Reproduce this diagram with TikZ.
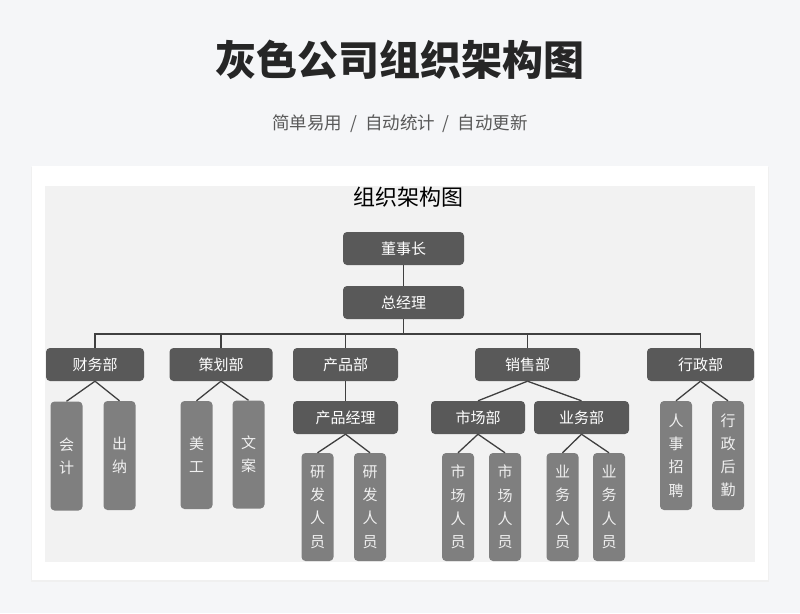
\documentclass[tikz,border=0pt]{standalone}
\usepackage{fontspec}
\setmainfont{Noto Sans CJK SC}
\definecolor{pagebg}{HTML}{F5F6F8}
\definecolor{panelbg}{HTML}{F2F2F2}
\definecolor{darkbox}{HTML}{595959}
\definecolor{leafbox}{HTML}{7F7F7F}
\definecolor{lineclr}{HTML}{404040}
\definecolor{titleclr}{HTML}{262626}
\definecolor{subclr}{HTML}{595959}
\tikzset{
  boxbase/.style={rounded corners=4pt, inner sep=0pt, text=white, align=center},
  headbox/.style={boxbase, fill=darkbox, minimum height=33pt, font=\fontsize{15}{18}\selectfont},
  leafbox/.style={boxbase, fill=leafbox, minimum width=32pt, font=\fontsize{15}{23.2}\selectfont, text=white!94!black},
  conn/.style={draw=lineclr, line width=1.3pt}
}
\begin{document}
\begin{tikzpicture}[x=1pt,y=-1pt]
\useasboundingbox (0,0) rectangle (800,613);
\fill[pagebg] (0,0) rectangle (800,613);
% titles
\node[font=\fontsize{41}{48}\selectfont\bfseries, text=titleclr] (title) at (400,60) {灰色公司组织架构图};
\node[font=\fontsize{17.5}{20}\selectfont, text=subclr] (sub) at (400,124) {简单易用 \ / \ 自动统计 \ / \ 自动更新};
% card
\fill[black!6] (31,167) rectangle (769,582);
\fill[white] (32,166) rectangle (768,580);
\fill[panelbg] (45,186) rectangle (755,562);
\node[font=\fontsize{22}{26}\selectfont, text=black] (inner) at (408,197) {组织架构图};
% top nodes
\node[headbox, minimum width=121pt] (dsz) at (403.5,248.5) {董事长};
\node[headbox, minimum width=121pt] (zjl) at (403.5,302.5) {总经理};
% departments
\node[headbox, minimum width=98pt] (cw) at (95,364.5) {财务部};
\node[headbox, minimum width=103pt] (ch) at (221,364.5) {策划部};
\node[headbox, minimum width=105pt] (cp) at (345.5,364.5) {产品部};
\node[headbox, minimum width=105pt] (xs) at (527.5,364.5) {销售部};
\node[headbox, minimum width=107pt] (xz) at (700.5,364.5) {行政部};
% second level
\node[headbox, minimum width=105pt] (cpjl) at (345.5,417.5) {产品经理};
\node[headbox, minimum width=94pt] (scb) at (478,417.5) {市场部};
\node[headbox, minimum width=95pt] (ywb) at (581.5,417.5) {业务部};
% leaves short
\node[leafbox, minimum height=109pt] (kj) at (66.5,456) {会\\计};
\node[leafbox, minimum height=109pt] (cn) at (119.5,455.5) {出\\纳};
\node[leafbox, minimum height=108pt] (mg) at (196.5,455) {美\\工};
\node[leafbox, minimum height=108pt] (wa) at (248.5,454.5) {文\\案};
\node[leafbox, minimum height=109pt] (rszp) at (676,455.5) {人\\事\\招\\聘};
\node[leafbox, minimum height=109pt] (xzhq) at (728,455.5) {行\\政\\后\\勤};
% leaves long
\node[leafbox, minimum height=108pt] (yf1) at (317.5,507) {研\\发\\人\\员};
\node[leafbox, minimum height=108pt] (yf2) at (370,507) {研\\发\\人\\员};
\node[leafbox, minimum height=108pt] (sc1) at (458,507) {市\\场\\人\\员};
\node[leafbox, minimum height=108pt] (sc2) at (505,507) {市\\场\\人\\员};
\node[leafbox, minimum height=108pt] (yw1) at (562.5,507) {业\\务\\人\\员};
\node[leafbox, minimum height=108pt] (yw2) at (609,507) {业\\务\\人\\员};
% connectors
\coordinate (bus) at (403.5,334);
\draw[conn] (dsz.south) -- (zjl.north);
\draw[conn] (zjl.south) -- (bus);
\draw[conn] (bus) -| (cw.north);
\draw[conn] (bus) -| (ch.north);
\draw[conn] (bus) -| (cp.north);
\draw[conn] (bus) -| (xs.north);
\draw[conn] (bus) -| (xz.north);
\draw[conn] (cw.south) -- (kj.north);
\draw[conn] (cw.south) -- (cn.north);
\draw[conn] (ch.south) -- (mg.north);
\draw[conn] (ch.south) -- (wa.north);
\draw[conn] (cp.south) -- (cpjl.north);
\draw[conn] (cpjl.south) -- (yf1.north);
\draw[conn] (cpjl.south) -- (yf2.north);
\draw[conn] (xs.south) -- (scb.north);
\draw[conn] (xs.south) -- (ywb.north);
\draw[conn] (scb.south) -- (sc1.north);
\draw[conn] (scb.south) -- (sc2.north);
\draw[conn] (ywb.south) -- (yw1.north);
\draw[conn] (ywb.south) -- (yw2.north);
\draw[conn] (xz.south) -- (rszp.north);
\draw[conn] (xz.south) -- (xzhq.north);
\end{tikzpicture}
\end{document}
